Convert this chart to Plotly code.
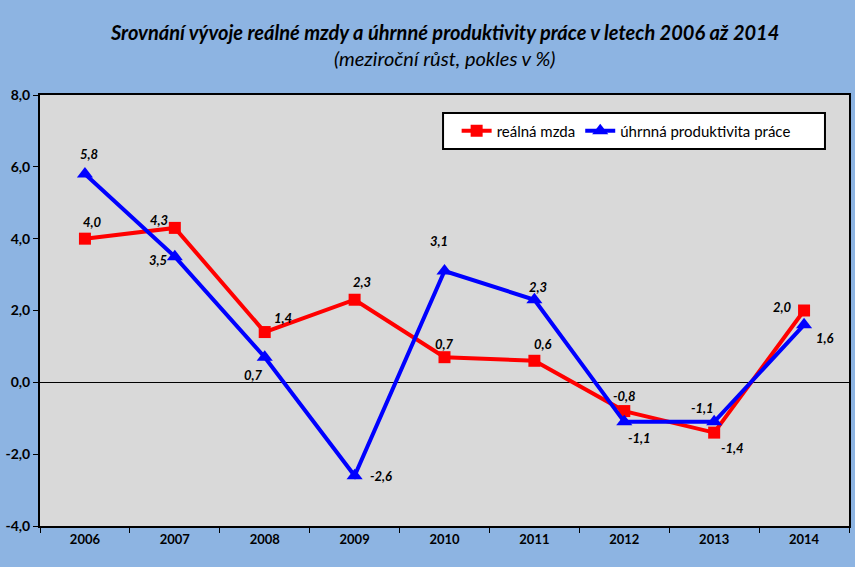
import plotly.graph_objects as go

years = ["2006", "2007", "2008", "2009", "2010", "2011", "2012", "2013", "2014"]
real_wage = [4.0, 4.3, 1.4, 2.3, 0.7, 0.6, -0.8, -1.4, 2.0]
productivity = [5.8, 3.5, 0.7, -2.6, 3.1, 2.3, -1.1, -1.1, 1.6]
y_ticks = [-4, -2, 0, 2, 4, 6, 8]
y_tick_labels = ["-4,0", "-2,0", "0,0", "2,0", "4,0", "6,0", "8,0"]

# label offsets (pixels) for data labels
wage_shift = [(8, 17), (-16, 8), (18, 14), (7, 18), (0, 13), (9, 17), (0, 15), (18, -15), (-22, 4)]
prod_shift = [(4, 20), (-17, -3), (-11, -18), (26, 0), (-6, 30), (4, 13), (15, -16), (-12, 14), (21, -13)]

fig = go.Figure()
fig.add_trace(go.Scatter(
    x=years, y=real_wage, name="reálná mzda", mode="lines+markers",
    line=dict(color="#FF0000", width=4),
    marker=dict(symbol="square", size=12, color="#FF0000"),
))
fig.add_trace(go.Scatter(
    x=years, y=productivity, name="úhrnná produktivita práce", mode="lines+markers",
    line=dict(color="#0000FF", width=4),
    marker=dict(symbol="triangle-up", size=14, color="#0000FF"),
))

label_font = dict(family="Lato", size=13, color="black")
for series, shifts in ((real_wage, wage_shift), (productivity, prod_shift)):
    for i, (yv, (dx, dy)) in enumerate(zip(series, shifts)):
        fig.add_annotation(
            x=i, y=yv, xref="x", yref="y",
            text="<b><i>" + f"{yv:.1f}".replace(".", ",") + "</i></b>",
            showarrow=False, xshift=dx, yshift=dy, font=label_font,
        )

# title lines
fig.add_annotation(
    x=0.5, y=1.146, xref="paper", yref="paper", showarrow=False,
    xanchor="center", yanchor="middle",
    text="<b><i>Srovnání vývoje reálné mzdy a úhrnné produktivity práce v letech 2006 až 2014</i></b>",
    font=dict(family="Lato", size=20, color="black"),
)
fig.add_annotation(
    x=0.5, y=1.086, xref="paper", yref="paper", showarrow=False,
    xanchor="center", yanchor="middle",
    text="<i>(meziroční růst, pokles v %)</i>",
    font=dict(family="Lato", size=20, color="black"),
)

# legend box
fig.add_shape(
    type="rect", xref="paper", yref="paper",
    x0=0.4982, x1=0.9703, y0=0.875, y1=0.958,
    fillcolor="white", line=dict(color="black", width=2), layer="above",
)

fig.update_layout(
    width=855, height=567,
    paper_bgcolor="#8DB4E2", plot_bgcolor="#D9D9D9",
    margin=dict(l=40, r=6, t=95, b=41, autoexpand=False),
    legend=dict(
        orientation="h", x=0.515, y=0.9165, xanchor="left", yanchor="middle",
        bgcolor="rgba(0,0,0,0)", borderwidth=0,
        font=dict(family="Lato", size=15, color="black"),
    ),
    showlegend=True,
)
fig.update_xaxes(
    type="category", range=[-0.5, 8.5], showgrid=False, tickson="boundaries",
    ticks="outside", ticklen=5, tickcolor="black", tickangle=0, automargin=False,
    showline=True, linecolor="black", linewidth=2, mirror=True,
    tickfont=dict(family="Lato", size=13, color="black", weight="bold"),
)
fig.update_yaxes(
    range=[-4, 8], tickvals=y_ticks, ticktext=y_tick_labels, automargin=False,
    showgrid=False, zeroline=True, zerolinecolor="black", zerolinewidth=1,
    ticks="outside", ticklen=5, tickcolor="black",
    showline=True, linecolor="black", linewidth=2, mirror=True,
    tickfont=dict(family="Lato", size=14, color="black", weight="bold"),
)

fig.write_html(
    "out.html",
    config={"displayModeBar": False},
    post_script="document.body.style.margin='0';",
)
